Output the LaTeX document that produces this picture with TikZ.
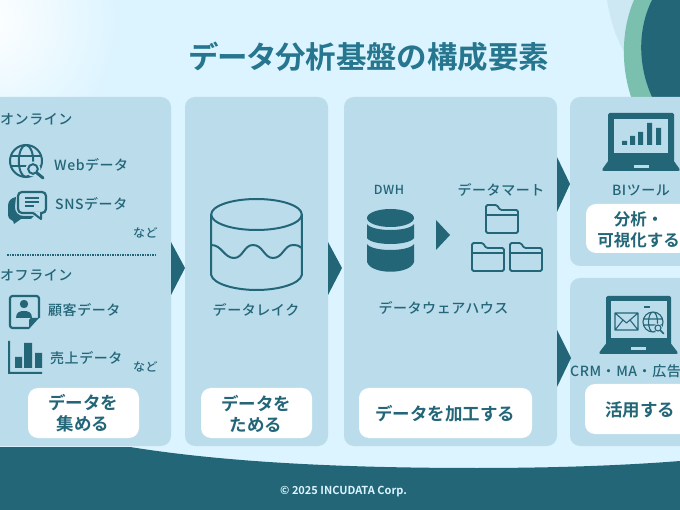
\documentclass[tikz,border=0pt]{standalone}
\usepackage{fontspec}
\setmainfont{Noto Sans CJK JP Medium}[LetterSpace=4]
\newfontfamily\titlefont{Noto Sans CJK JP Bold}[RawFeature=+palt]
\newfontfamily\boldjp{Noto Sans CJK JP Bold}
\usetikzlibrary{calc}
\definecolor{bgblue}{HTML}{DCF4FF}
\definecolor{panelblue}{HTML}{BBDCEB}
\definecolor{teal}{HTML}{236678}
\definecolor{titleteal}{HTML}{25768E}
\definecolor{mint}{HTML}{7BBFAE}
\definecolor{paleblue}{HTML}{CDE7F3}
\tikzset{
  panel/.style={fill=panelblue,rounded corners=10pt},
  whitebox/.style={fill=white,rounded corners=10pt},
  flowtip/.style={fill=teal},
  label/.style={text=teal,font=\fontsize{14}{16}\selectfont,inner sep=0pt},
  smalllabel/.style={label,font=\fontsize{12}{14}\selectfont},
  boxtext/.style={text=teal,font=\fontsize{17.5}{21}\boldjp,align=center,inner sep=0pt},
  iconline/.style={draw=teal,line width=2pt,fill=none},
  folder/.pic={
    \draw[draw=teal,line width=1.8pt,line join=round,rounded corners=1.5pt]
      (0,28) -- (0,0) -- (11,0) -- (14,5) -- (32,5) -- (32,28) -- cycle;
    \draw[teal,line width=1.8pt] (0,10) -- (32,10);
  },
  globe/.pic={
    \draw[iconline] (0,0) circle (#1);
    \draw[iconline] (0,0) ellipse ({0.45*#1} and #1);
    \draw[iconline] (-#1,-{0.3*#1}) -- (#1,-{0.3*#1});
    \draw[iconline] (-#1,{0.3*#1}) -- (#1,{0.3*#1});
  }
}
\begin{document}
\begin{tikzpicture}[x=1pt,y=-1pt]
\clip (0,0) rectangle (680,510);
% background
\fill[bgblue] (0,0) rectangle (680,510);
\shade[inner color=white,outer color=bgblue] (-15,20) circle (135);
% top right circles
\fill[paleblue] (607,0) .. controls (612,30) and (620,50) .. (640,75) -- (640,0) -- cycle;
\fill[mint] (634,0) .. controls (621,30) and (620,70) .. (634,105) -- (680,105) -- (680,0) -- cycle;
\fill[teal] (652,0) .. controls (637,30) and (637,70) .. (656,105) -- (680,105) -- (680,0) -- cycle;
% footer wave
\fill[teal] (0,447) -- (130,447) .. controls (230,463) and (350,468) .. (477,468) .. controls (560,468) and (630,465) .. (680,461) -- (680,510) -- (0,510) -- cycle;
% title
\node[inner sep=0pt,text=titleteal,font=\fontsize{30.5}{36}\titlefont] (title) at (369,57) {データ分析基盤の構成要素};
% panels
\fill[panel] (-20,97) rectangle (171,446);
\fill[panel] (185,97) rectangle (328,446);
\fill[panel] (344,97) rectangle (557,446);
\fill[panel] (570,97) rectangle (710,266);
\fill[panel] (570,278) rectangle (710,446);
% flow triangles
\fill[flowtip] (171,242) -- (185,268) -- (171,295) -- cycle;
\fill[flowtip] (328,242) -- (342,268) -- (328,295) -- cycle;
\fill[flowtip] (557,157) -- (570,184) -- (557,212) -- cycle;
\fill[flowtip] (557,330) -- (571,358) -- (557,387) -- cycle;
% white boxes
\fill[whitebox] (28,388) rectangle (139,438);
\fill[whitebox] (201,388) rectangle (312,438);
\fill[whitebox] (359,388) rectangle (532,438);
\fill[whitebox] (586,204) rectangle (710,253);
\fill[whitebox] (585,384) rectangle (710,434);
\node[boxtext] (collect) at (83,413.500) {データを\\集める};
\node[boxtext] (store) at (256,413.500) {データを\\ためる};
\node[boxtext] (process) at (445,413.500) {データを加工する};
\node[boxtext,font=\fontsize{16.5}{21}\boldjp] (analyze) at (638.500,229.500) {分析・\\可視化する};
\node[boxtext] (use) at (640,410) {活用する};
% panel 1 labels
\node[label,anchor=west] (online) at (0,119.500) {オンライン};
\node[label,anchor=west] (web) at (54,164.500) {Webデータ};
\node[label,anchor=west] (sns) at (55,203.500) {SNSデータ};
\node[smalllabel,anchor=west] (etc1) at (133,233) {など};
\draw[teal,line width=1.5pt,dash pattern=on 1.5pt off 1pt] (7,255) -- (155,255);
\node[label,anchor=west] (offline) at (0,275.500) {オフライン};
\node[label,anchor=west] (cust) at (48,310.500) {顧客データ};
\node[label,anchor=west] (sales) at (50,358.500) {売上データ};
\node[smalllabel,anchor=west] (etc2) at (133,367) {など};
% globe icon
\pic at (26,161) {globe=16};
\fill[panelblue] (33,169) circle (7.5);
\draw[teal,line width=2pt] (33,169) circle (4.8);
\draw[teal,line width=3pt,line cap=round] (37,173) -- (43,178);
% sns icon
\fill[teal] (16,197) .. controls (11,198) and (8,201) .. (8,206) -- (8,214) .. controls (8,218) and (10,220) .. (13,221) -- (14,224) -- (21,219) -- (31,219) -- (34,216) -- (24,216) .. controls (18,216) and (15,212) .. (15,207) -- cycle;
\draw[teal,line width=2.2pt,fill=panelblue,line join=round,rounded corners=4pt] (18,192) rectangle (46,213);
\fill[panelblue] (33,212) -- (40,212) -- (40,216) -- cycle;
\draw[teal,line width=2pt,line join=round] (33,213) -- (41,219) -- (41,213);
\draw[teal,line width=1.2pt] (25,198) -- (39,198) (25,202) -- (39,202) (25,206) -- (34,206);
% customer card
\draw[teal,line width=2.2pt,line join=round,rounded corners=2.5pt] (39,318) -- (39,296) -- (10,296) -- (10,328) -- (29,328);
\fill[teal] (29,329) -- (39,318) -- (31,318) -- (29,320) -- cycle;
\fill[teal] (24,304) circle (4.2);
\fill[teal] (16,318) .. controls (16,312) and (20,311) .. (24,311) .. controls (28,311) and (32,312) .. (32,318) -- cycle;
% sales chart
\fill[teal] (8,341) rectangle (10,374) (8,372) rectangle (42,374);
\fill[teal] (15,357) rectangle (22,368) (24,343) rectangle (32,368) (35,353) rectangle (42,368);
% data lake
\draw[iconline] (256.500,214.500) ellipse (45.300 and 15.500);
\draw[iconline] (211.200,214.500) -- (211.200,275) .. controls (213,284) and (235,290) .. (256.500,290) .. controls (278,290) and (300,284) .. (301.800,275) -- (301.800,214.500);
\draw[iconline] (211.200,245) .. controls (222,245) and (224,258) .. (234,258) .. controls (243,258) and (244,245) .. (253,245) .. controls (263,245) and (264,258) .. (273,258) .. controls (283,258) and (284,245) .. (293,245) .. controls (297,245) and (300,246) .. (301.800,248);
\node[label,anchor=center] (lake) at (256,309.500) {データレイク};
% DWH
\node[label,font=\fontsize{12.5}{15}\selectfont] (dwh) at (389,189.500) {DWH};
\node[label] (mart) at (501,189.500) {データマート};
\node[label] (wh) at (443.500,307.500) {データウェアハウス};
\fill[teal] (390.500,218) ellipse (23.500 and 9);
\fill[teal] (367,224) .. controls (372,232) and (409,232) .. (414,224) -- (414,238) .. controls (409,246) and (372,246) .. (367,238) -- cycle;
\fill[teal] (367,244) .. controls (372,252) and (409,252) .. (414,244) -- (414,262) .. controls (410,275) and (371,275) .. (367,262) -- cycle;
\fill[flowtip] (436,220) -- (450,235) -- (436,250) -- cycle;
\pic at (486,205) {folder};
\pic at (472,243) {folder};
\pic at (510,243) {folder};
% BI laptop
\fill[teal,rounded corners=1.5pt] (608,113) rectangle (674,162);
\fill[panelblue] (614,119) rectangle (668,153);
\fill[teal,rounded corners=3pt] (611,157) -- (671,157) -- (681,171) -- (601,171) -- cycle;
\fill[panelblue] (634,165) rectangle (649,168);
\fill[teal] (622,141) rectangle (627,145) (630,136) rectangle (635,145) (638,132) rectangle (643,145) (647,123) rectangle (652,145) (656,128) rectangle (661,145);
\node[label] (bi) at (641,190.500) {BIツール};
% second laptop
\fill[teal,rounded corners=1.5pt] (606,296) rectangle (671,345);
\fill[panelblue] (611,301) rectangle (667,338);
\fill[teal,rounded corners=3pt] (608,341) -- (669,341) -- (679,354) -- (598,354) -- cycle;
\fill[panelblue] (631,347) rectangle (646,350);
\fill[teal] (644,306) rectangle (650,308);
\draw[teal,line width=1.1pt,line join=round] (615,313) rectangle (638,330) (615,313) -- (626.500,323) -- (638,313) (615,330) -- (623,320) (638,330) -- (630,320);
\draw[teal,line width=1.1pt] (653,322) circle (10) (653,322) ellipse (4.5 and 10) (643.500,319) -- (662.500,319) (643.500,325) -- (662.500,325);
\fill[panelblue] (658,328) circle (4.500);
\draw[teal,line width=1.1pt] (658,328) circle (3);
\draw[teal,line width=1.6pt,line cap=round] (660.500,330.500) -- (663.500,333.500);
\node[label] (crm) at (625.500,371.500) {CRM・MA・広告};
% footer
\node[inner sep=0pt,text=bgblue,font=\fontsize{11}{12}\boldjp] (copy) at (343.500,492) {© 2025 INCUDATA Corp.};
\end{tikzpicture}
\end{document}
